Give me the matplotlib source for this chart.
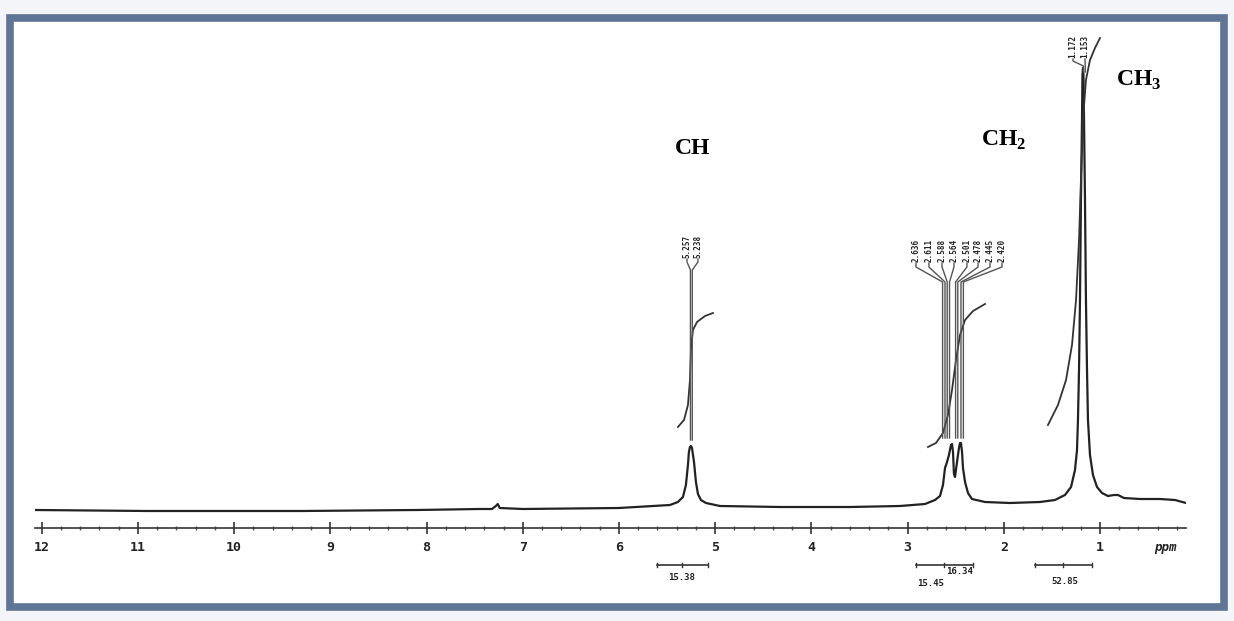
import matplotlib.pyplot as plt
from matplotlib.patches import Rectangle
from matplotlib.ticker import MultipleLocator

# spectrum trace: chemical shift (ppm) and height above baseline
shift = [12.07, 10.9, 9.3, 8.1, 7.45, 7.32, 7.28, 7.26, 7.24, 7.0, 6.0, 5.47, 5.387, 5.335,
         5.304, 5.283, 5.273, 5.262, 5.252, 5.241, 5.22, 5.2, 5.179, 5.148, 5.096, 4.95, 4.326,
         3.599, 3.079, 2.819, 2.715, 2.663, 2.632, 2.611, 2.59, 2.57, 2.549, 2.538, 2.528, 2.518,
         2.507, 2.486, 2.466, 2.455, 2.445, 2.434, 2.424, 2.403, 2.372, 2.331, 2.195, 1.936, 1.624,
         1.468, 1.364, 1.301, 1.26, 1.239, 1.229, 1.218, 1.208, 1.198, 1.187, 1.182, 1.177, 1.172,
         1.166, 1.156, 1.146, 1.135, 1.125, 1.104, 1.073, 1.031, 0.979, 0.917, 0.854, 0.813, 0.751,
         0.584, 0.376, 0.22, 0.106]
intensity = [2, 1, 1, 2, 3, 3, 6, 8, 4, 3, 4, 7, 10, 15,
             27, 47, 60, 65, 66, 64, 50, 30, 18, 12, 9, 6, 5,
             5, 6, 8, 12, 16, 27, 44, 50, 57, 67, 68, 60, 38,
             35, 50, 64, 69, 69, 60, 44, 30, 19, 13, 10, 9, 10,
             12, 17, 25, 42, 62, 92, 142, 212, 312, 392, 437, 444, 437,
             392, 312, 212, 142, 92, 57, 37, 25, 19, 16, 17, 17, 14,
             13, 13, 12, 9]

# integral curves
int_ch_x = [5.387, 5.324, 5.283, 5.262, 5.252, 5.231, 5.189, 5.106, 5.023]
int_ch_y = [85, 92, 107, 132, 162, 182, 190, 196, 199]
int_ch2_x = [2.788, 2.705, 2.632, 2.58, 2.538, 2.497, 2.455, 2.403, 2.32, 2.195]
int_ch2_y = [65, 69, 79, 97, 122, 152, 177, 192, 201, 208]
int_ch3_x = [1.541, 1.437, 1.353, 1.291, 1.249, 1.218, 1.198, 1.177, 1.146, 1.104, 1.052, 1.0]
int_ch3_y = [87, 107, 132, 167, 212, 272, 332, 392, 432, 452, 464, 474]

# peak picking labels
ch_peaks = [5.257, 5.238]
ch_label_x = [5.293, 5.179]
ch2_peaks = [2.636, 2.611, 2.588, 2.564, 2.501, 2.478, 2.445, 2.420]
ch2_label_x = [2.913, 2.778, 2.642, 2.518, 2.383, 2.268, 2.143, 2.019]
ch3_peaks = [1.172, 1.153]
ch3_label_x = [1.281, 1.156]

# integration bars under the axis
int_bars = [(5.605, 5.075), (2.913, 2.320), (1.676, 1.083)]
int_values = ['15.38', '15.45', '16.34', '52.85']
int_text_x = [5.345, 2.766, 2.455, 1.364]
int_text_y = [-65, -71, -60, -69]

ticks = list(range(12, 0, -1))

fig = plt.figure(figsize=(12.34, 6.21), dpi=100)
fig.patch.set_facecolor('#f3f5f8')
# white sheet with the blue-grey frame
fig.patches.append(Rectangle((9.5 / 1234, 1 - 607 / 621), 1214.5 / 1234, 589 / 621,
                             transform=fig.transFigure, facecolor='white',
                             edgecolor='#5f7595', linewidth=5.5, zorder=-10))

ax = fig.add_axes([35 / 1234, (621 - 528) / 621, (1186 - 35) / 1234, (528 - 22) / 621])
ax.set_zorder(5)
ax.set_facecolor('none')
ax.set_xlim(12.07, 0.106)
ax.set_ylim(-16, 490)
for s in ['top', 'left', 'right']:
    ax.spines[s].set_visible(False)
ax.spines['bottom'].set_color('#333333')
ax.spines['bottom'].set_linewidth(1.2)
ax.set_yticks([])
ax.set_xticks(ticks)
ax.set_xticklabels([str(t) for t in ticks], fontsize=9.5, fontweight='bold',
                   family='DejaVu Sans Mono', color='#222222')
ax.xaxis.set_minor_locator(MultipleLocator(0.2))
ax.tick_params(axis='x', which='major', direction='inout', length=9, width=1.2,
               color='#333333', pad=5)
ax.tick_params(axis='x', which='minor', direction='inout', length=3, width=1.0,
               color='#555555')
ax.text(0.324, -36, 'ppm', fontsize=9, fontweight='bold', style='italic',
        family='DejaVu Sans Mono', ha='center', va='center', color='#222222')

# spectrum
ax.plot(shift, intensity, color='#222222', lw=1.6)

# integrals
ax.plot(int_ch_x, int_ch_y, color='#333333', lw=1.3)
ax.plot(int_ch2_x, int_ch2_y, color='#333333', lw=1.3)
ax.plot(int_ch3_x, int_ch3_y, color='#333333', lw=1.3, clip_on=False)


def peak_labels(peaks, label_x, top, knee1, knee2, end):
    for p, lx in zip(peaks, label_x):
        ax.plot([lx, lx, p, p], [top, knee1, knee2, end], color='#555555', lw=1.0,
                clip_on=False)
        ax.text(lx, top + 1, '%.3f' % p, rotation=90, ha='center', va='bottom',
                fontsize=5.5, fontweight='bold', family='DejaVu Sans Mono',
                color='#222222')


peak_labels(ch_peaks, ch_label_x, 253, 250, 242, 72)
peak_labels(ch2_peaks, ch2_label_x, 249, 245, 230, 74)
peak_labels(ch3_peaks, ch3_label_x, 453, 451, 446, 440)

# integration bars
for x1, x2 in int_bars:
    ax.plot([x1, x2], [-53, -53], color='#333333', lw=1.2, clip_on=False)
    ax.plot([x1, x1], [-51, -55], color='#333333', lw=1.0, clip_on=False)
    ax.plot([x2, x2], [-51, -55], color='#333333', lw=1.0, clip_on=False)
    ax.plot([(x1 + x2) / 2] * 2, [-51, -55], color='#333333', lw=1.0, clip_on=False)
for t, tx, ty in zip(int_values, int_text_x, int_text_y):
    ax.text(tx, ty, t, fontsize=6.5, fontweight='bold', family='DejaVu Sans Mono',
            ha='center', va='center', color='#222222')

# group names
ax.text(5.23, 364, 'CH', fontsize=17, fontweight='bold', family='Liberation Serif',
        ha='center', va='center')
ax.text(2.0, 372, 'CH$_\\mathregular{2}$', fontsize=17, fontweight='bold',
        family='Liberation Serif', ha='center', va='center')
ax.text(0.6, 432, 'CH$_\\mathregular{3}$', fontsize=17, fontweight='bold',
        family='Liberation Serif', ha='center', va='center')

plt.savefig('out.png', dpi=100)
